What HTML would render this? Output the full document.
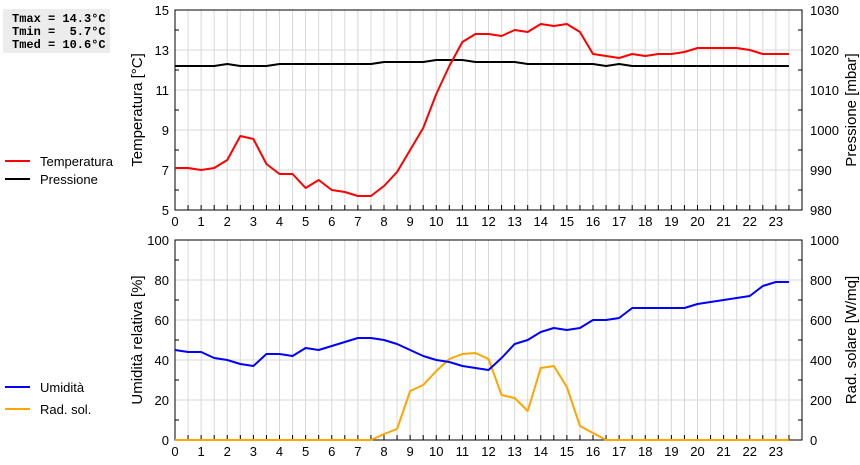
<!DOCTYPE html>
<html><head><meta charset="utf-8"><style>
body{margin:0;background:#fff;width:860px;height:460px;overflow:hidden;font-family:"Liberation Sans",sans-serif}
svg text{font-family:"Liberation Sans",sans-serif}
</style></head><body>
<svg id="c" width="860" height="460">
<rect x="3" y="9" width="107" height="44" fill="#ececec"/>
<text x="12" y="22" font-family="Liberation Mono, monospace" font-size="12" font-weight="bold" xml:space="preserve" style="font-family:'Liberation Mono',monospace">Tmax = 14.3°C</text>
<text x="12" y="35" font-size="12" font-weight="bold" xml:space="preserve" style="font-family:'Liberation Mono',monospace">Tmin =  5.7°C</text>
<text x="12" y="48" font-size="12" font-weight="bold" xml:space="preserve" style="font-family:'Liberation Mono',monospace">Tmed = 10.6°C</text>
<g>
<line x1="5" y1="161" x2="30" y2="161" stroke="red" stroke-width="2"/>
<text x="40" y="166" font-size="13">Temperatura</text>
<line x1="5" y1="179" x2="30" y2="179" stroke="#000" stroke-width="2"/>
<text x="40" y="184" font-size="13">Pressione</text>
</g>
<g>
<line x1="5" y1="387" x2="30" y2="387" stroke="#00f" stroke-width="2"/>
<text x="40" y="392" font-size="13">Umidità</text>
<line x1="5" y1="409" x2="30" y2="409" stroke="orange" stroke-width="2"/>
<text x="40" y="414" font-size="13">Rad. sol.</text>
</g>
<text transform="translate(142,110) rotate(-90)" text-anchor="middle" font-size="15">Temperatura [°C]</text>
<text transform="translate(856,110) rotate(-90)" text-anchor="middle" font-size="15">Pressione [mbar]</text>
<text transform="translate(142,340) rotate(-90)" text-anchor="middle" font-size="15">Umidità relativa [%]</text>
<text transform="translate(856,340) rotate(-90)" text-anchor="middle" font-size="15">Rad. solare [W/mq]</text>
</svg>
<script>
const hours=[0,0.5,1,1.5,2,2.5,3,3.5,4,4.5,5,5.5,6,6.5,7,7.5,8,8.5,9,9.5,10,10.5,11,11.5,12,12.5,13,13.5,14,14.5,15,15.5,16,16.5,17,17.5,18,18.5,19,19.5,20,20.5,21,21.5,22,22.5,23,23.5];
const temperature=[7.1,7.1,7.0,7.1,7.5,8.7,8.55,7.3,6.8,6.8,6.1,6.5,6.0,5.9,5.7,5.7,6.2,6.9,8.0,9.1,10.8,12.2,13.4,13.8,13.8,13.7,14.0,13.9,14.3,14.2,14.3,13.9,12.8,12.7,12.6,12.8,12.7,12.8,12.8,12.9,13.1,13.1,13.1,13.1,13.0,12.8,12.8,12.8];
const pressure=[1016,1016,1016,1016,1016.5,1016,1016,1016,1016.5,1016.5,1016.5,1016.5,1016.5,1016.5,1016.5,1016.5,1017,1017,1017,1017,1017.5,1017.5,1017.5,1017,1017,1017,1017,1016.5,1016.5,1016.5,1016.5,1016.5,1016.5,1016,1016.5,1016,1016,1016,1016,1016,1016,1016,1016,1016,1016,1016,1016,1016];
const humidity=[45,44,44,41,40,38,37,43,43,42,46,45,47,49,51,51,50,48,45,42,40,39,37,36,35,41,48,50,54,56,55,56,60,60,61,66,66,66,66,66,68,69,70,71,72,77,79,79];
const radiation=[0,0,0,0,0,0,0,0,0,0,0,0,0,0,0,0,30,55,245,275,345,405,430,435,405,225,210,145,360,370,265,70,35,0,0,0,0,0,0,0,0,0,0,0,0,0,0,0];
const xTicks=[0,1,2,3,4,5,6,7,8,9,10,11,12,13,14,15,16,17,18,19,20,21,22,23];
const tempTicks=[5,7,9,11,13,15];
const pressTicks=[980,990,1000,1010,1020,1030];
const humTicks=[0,20,40,60,80,100];
const radTicks=[0,200,400,600,800,1000];

const svg=document.getElementById('c');
const NS='http://www.w3.org/2000/svg';
const X0=175,X1=802;
const xs=h=>X0+h*(X1-X0)/24;
function mk(t,a){const e=document.createElementNS(NS,t);for(const k in a)e.setAttribute(k,a[k]);svg.appendChild(e);return e;}
function panel(top,lTicks,lmin,lmax,rTicks,rmin,rmax,name){
  const bot=top+200;
  const yl=v=>bot-(v-lmin)/(lmax-lmin)*200;
  const yr=v=>bot-(v-rmin)/(rmax-rmin)*200;
  for(let h=0.5;h<24;h+=0.5){
    const g=mk('line',{x1:xs(h),x2:xs(h),y1:top,y2:bot,stroke:'#d8d8d8','stroke-width':1});
    
    
    const t=mk('line',{x1:xs(h),x2:xs(h),y1:bot,y2:bot-5,stroke:'#000'});
    
    
  }
  for(let i=0;i<lTicks.length;i++){
    const v=lTicks[i];
    const y=yl(v);
    if(i>0&&i<lTicks.length-1){const g=mk('line',{x1:X0,x2:X1,y1:y,y2:y,stroke:'#d8d8d8'});
    
    }
    const t=mk('text',{x:X0-6,y:y+5,'text-anchor':'end','font-size':13});t.textContent=v;
    
    
    if(i<lTicks.length-1){const ym=(yl(v)+yl(lTicks[i+1]))/2;
      mk('line',{x1:X0,x2:X0+4,y1:ym,y2:ym,stroke:'#000'});mk('line',{x1:X1,x2:X1-4,y1:ym,y2:ym,stroke:'#000'});}
  }
  rTicks.forEach(v=>{const y=yr(v);
    const t=mk('text',{x:X1+8,y:y+5,'font-size':13});t.textContent=v;
    
    });
  xTicks.forEach(h=>{const t=mk('text',{x:xs(h),y:bot+16,'text-anchor':'middle','font-size':13});t.textContent=h;
    
    });
  const r=mk('rect',{x:X0,y:top,width:X1-X0,height:200,fill:'none',stroke:'#000'});
  
  
  return {yl,yr};
}
function series(vals,f,color,name){
  const p=mk('polyline',{points:vals.map((v,i)=>xs(hours[i])+','+f(v)).join(' '),fill:'none',stroke:color,'stroke-width':2,'stroke-linejoin':'round'});
  
  
}
const a=panel(10,tempTicks,5,15,pressTicks,980,1030,'top');
series(pressure,a.yr,'#000','pressure-line');
series(temperature,a.yl,'red','temperature-line');
const b=panel(240,humTicks,0,100,radTicks,0,1000,'bottom');
series(radiation,b.yr,'orange','radiation-line');
series(humidity,b.yl,'#00f','humidity-line');
</script>
</body></html>
